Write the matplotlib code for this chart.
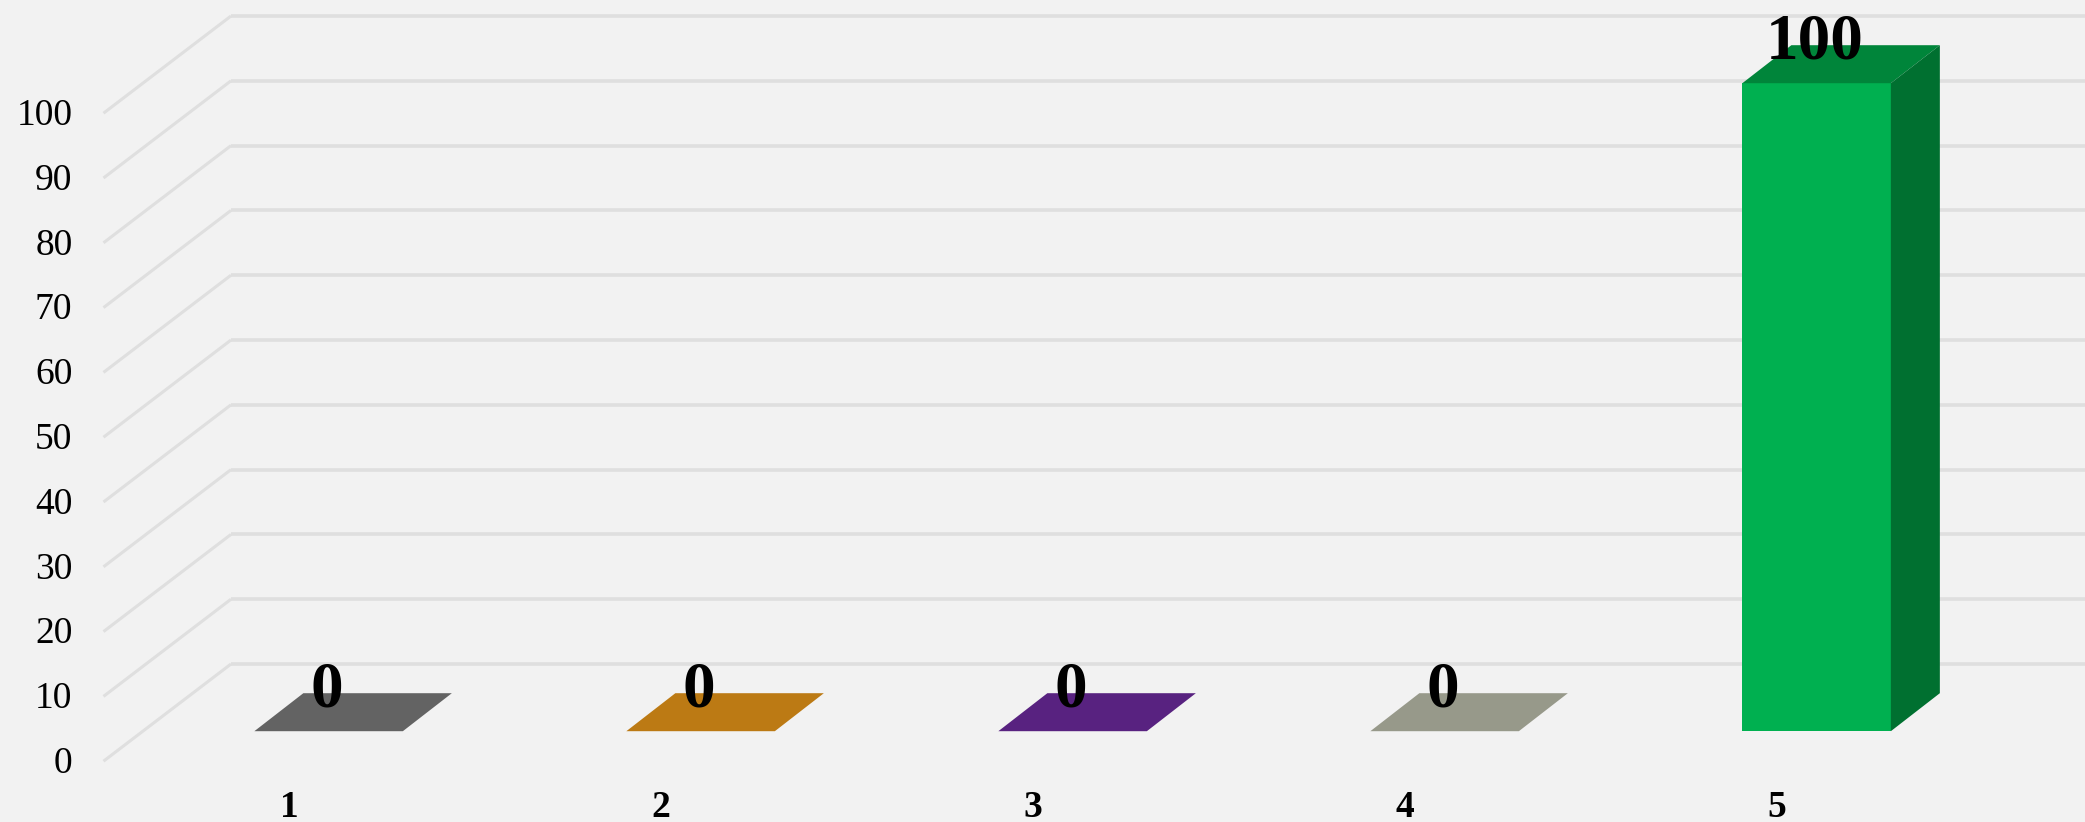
import matplotlib
matplotlib.use('Agg')
import matplotlib.pyplot as plt

plt.rcParams['font.family'] = ['Liberation Serif', 'DejaVu Serif']

categories = [1, 2, 3, 4, 5]
values = [0, 0, 0, 0, 100]
front_colors = ['#7F7F7F', '#E8961A', '#7030A0', '#BCBFAB', '#00B050']
top_colors = ['#636363', '#BC7A14', '#582280', '#97998A', '#00853A']
side_colors = ['#505050', '#9A6410', '#461B66', '#7C7E70', '#007030']
y_ticks = [0, 10, 20, 30, 40, 50, 60, 70, 80, 90, 100]

bg = '#F2F2F2'
grid_color = '#DFDFDF'

# figure is 2085x822, data units -> pixels: 372 px per category, 6.48 px per value
px_x = 372.0
px_y = 6.48
bar_w = 148.5 / px_x
depth_x = 49.0 / px_x
depth_y = 38.0 / px_y

fig = plt.figure(figsize=(20.85, 8.22), dpi=100, facecolor=bg)
ax = fig.add_axes([0, 0, 1, 1])
ax.set_facecolor(bg)
ax.set_xlim(1 - 328.6 / px_x, 1 + (2085 - 328.6) / px_x)
ax.set_ylim(-(822 - 731.2) / px_y, 731.2 / px_y)
ax.axis('off')

# floor / wall gridlines
wall_left = 1 + (231 - 328.6) / px_x
front_left = 1 + (103.5 - 328.6) / px_x
x_right = ax.get_xlim()[1]
front_off = -30.0 / px_y
back_off = 67.2 / px_y
for t in y_ticks:
    ax.plot([wall_left, x_right], [t + back_off, t + back_off], color=grid_color, lw=2.6, zorder=1,
            solid_capstyle='butt')
    ax.plot([front_left, wall_left], [t + front_off, t + back_off], color=grid_color, lw=2.2, zorder=1,
            solid_capstyle='butt')
    ax.text(front_left - 31.0 / px_x, t + front_off + 1.5 / px_y, str(t), ha='right', va='center_baseline',
            fontsize=27, color='black', zorder=5)

# bars: front from ax.bar, top and side as polygons
ax.bar(categories, values, width=bar_w, color=front_colors, linewidth=0, zorder=3)
for c, v, tc, sc in zip(categories, values, top_colors, side_colors):
    l = c - bar_w / 2
    r = c + bar_w / 2
    ax.fill([l, r, r + depth_x, l + depth_x], [v, v, v + depth_y, v + depth_y], color=tc, lw=0, zorder=3)
    if v > 0:
        ax.fill([r, r + depth_x, r + depth_x, r], [0, depth_y, v + depth_y, v], color=sc, lw=0, zorder=3)
    ax.text(c - 1.5 / px_x, v + 47.5 / px_y, str(v), ha='center', va='center_baseline', fontsize=47,
            fontweight='bold', color='black', zorder=6)
    ax.text(c - 39.5 / px_x, -72.5 / px_y, str(c), ha='center', va='center_baseline', fontsize=27,
            fontweight='bold', color='black', zorder=5)

fig.savefig('out.png', dpi=100, facecolor=bg)
